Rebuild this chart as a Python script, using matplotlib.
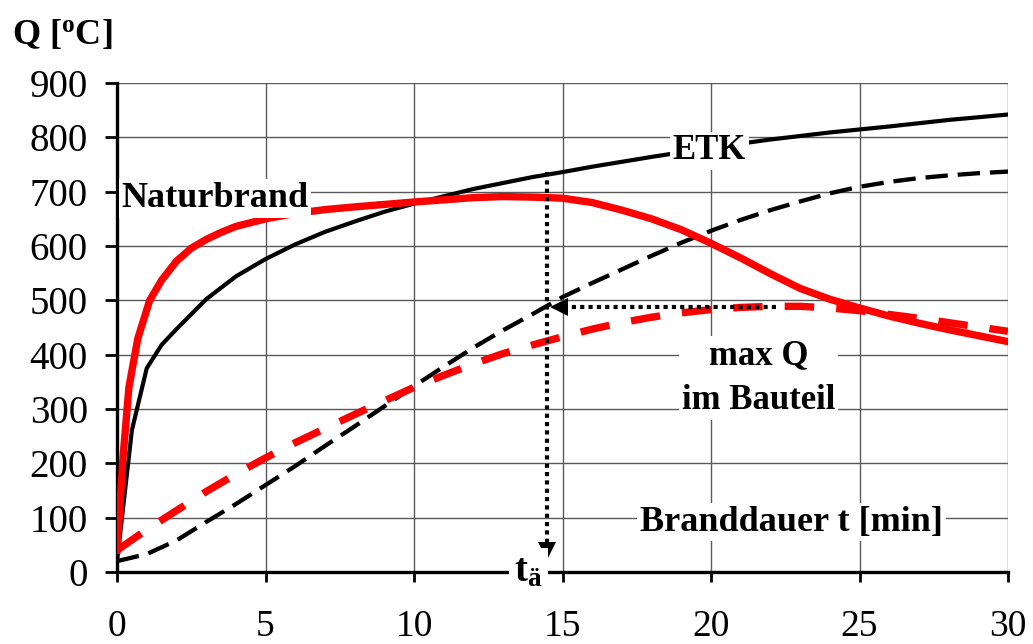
import matplotlib.pyplot as plt

plt.rcParams['font.family'] = ['Liberation Serif', 'DejaVu Serif']
plt.rcParams['mathtext.fontset'] = 'custom'
plt.rcParams['mathtext.rm'] = 'Liberation Serif'
plt.rcParams['mathtext.it'] = 'Liberation Serif:italic'
plt.rcParams['mathtext.bf'] = 'Liberation Serif:bold'

# Zeit [min]
t_etk = [0, 0.5, 1, 1.5, 2, 3, 4, 5, 6, 7, 8, 9, 10, 12, 14, 15, 16, 18, 20, 22, 24, 26, 28, 30]
# ETK (Einheitstemperaturkurve)
etk = [20, 261, 375, 418, 447, 502, 544, 576, 603, 626, 645, 663, 678, 705, 727, 736, 746, 764, 781, 796, 809, 820, 832, 842]

t_nb = [0, 0.2, 0.4, 0.7, 1.1, 1.5, 2, 2.5, 3, 3.5, 4, 5, 6, 7, 8, 10, 12, 13, 14, 15, 16, 17,
        18, 19, 20, 21, 22, 23, 24, 25, 26, 27, 28, 29, 30]
# Naturbrand
naturbrand = [40, 210, 340, 430, 500, 537, 572, 596, 612, 625, 636, 650, 660, 667, 672, 681, 689, 691, 690, 688, 680,
              666, 650, 630, 605, 578, 549, 522, 502, 486, 471, 458, 446, 435, 424]

t_bt = list(range(0, 31))
# Bauteiltemperatur bei Naturbrand
bauteil_nb = [40, 78, 113, 148, 180, 210, 238, 264, 290, 315, 340, 362, 383, 402, 418, 433, 447, 459,
              469, 477, 483, 487, 489, 489, 486, 481, 474, 467, 459, 451, 443]
# Bauteiltemperatur bei ETK
bauteil_etk = [20, 33, 58, 92, 125, 160, 195, 232, 268, 305, 342, 378, 413, 445, 475, 506, 532, 557,
               582, 606, 628, 648, 666, 682, 697, 709, 718, 725, 730, 734, 737]

# äquivalente Branddauer
t_ae = 14.48
max_q = 488
etk_bei_tae = 736

fig = plt.figure(figsize=(10.33, 6.44), dpi=100)
ax = fig.add_axes([0.1133, 0.1118, 0.8625, 0.7593])

ax.plot(t_bt, bauteil_etk, color='black', lw=3.1, ls=(0, (5.2, 2.3)), zorder=3)
ax.plot(t_bt, bauteil_nb, color='#ff0000', lw=5.3, ls=(0, (4, 3)), zorder=3)
ax.plot(t_etk, etk, color='black', lw=3.0, zorder=4)
ax.plot(t_nb, naturbrand, color='#ff0000', lw=5.3, zorder=4)

# Pfeile (gepunktet mit Spitze)
ax.plot([t_ae, t_ae], [etk_bei_tae, 50], color='black', lw=3, ls=(0, (1, 1)), zorder=5)
ax.plot([t_ae], [39], marker='v', ms=13, color='black', mew=0, zorder=5)
ax.plot([22.2, t_ae + 0.5], [max_q, max_q], color='black', lw=3, ls=(0, (1, 1)), zorder=5)
ax.plot([t_ae + 0.4], [max_q], marker='<', ms=13, color='black', mew=0, zorder=5)

ax.set_xlim(0, 30)
ax.set_ylim(0, 900)
ax.set_xticks(range(0, 31, 5))
ax.set_yticks(range(0, 901, 100))
ax.grid(True, color='#5a5a5a', lw=1.0)
ax.set_axisbelow(True)
for s in ['top', 'right']:
    ax.spines[s].set_visible(False)
for s in ['left', 'bottom']:
    ax.spines[s].set_linewidth(2.4)
ax.tick_params(axis='x', direction='out', length=7, width=2, labelsize=27, pad=20)
ax.tick_params(axis='y', direction='out', length=9, width=2, labelsize=28, pad=12)

box = dict(facecolor='white', edgecolor='none', pad=2)
ax.text(19.95, 775, 'ETK', fontsize=25, fontweight='bold', ha='center', va='center', bbox=box, zorder=6)
ax.text(3.3, 688, 'Naturbrand', fontsize=26, fontweight='bold', ha='center', va='center', bbox=box, zorder=6)
ax.text(21.6, 357, 'max Q\nim Bauteil', fontsize=25, fontweight='bold', ha='center', va='center',
        linespacing=1.5, bbox=box, zorder=6)
ax.text(22.7, 92, 'Branddauer t [min]', fontsize=26, fontweight='bold', ha='center', va='center',
        bbox=box, zorder=6)
ax.text(13.85, 0, r'$\mathbf{t_{ä}}$', fontsize=28, ha='center', va='center',
        bbox=dict(facecolor='white', edgecolor='none', pad=4), zorder=6, clip_on=False)

fig.text(0.012, 0.945, r'Q [$^{\mathbf{o}}$C]', fontsize=26, fontweight='bold', ha='left', va='center')

fig.savefig('out.png', dpi=100)
